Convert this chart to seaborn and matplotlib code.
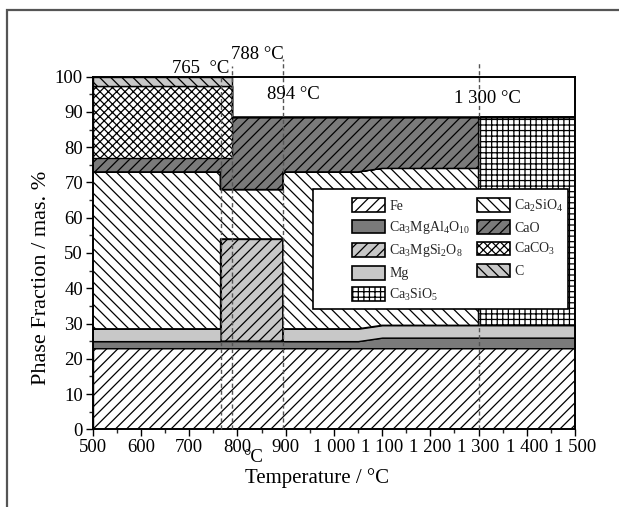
import matplotlib
matplotlib.use("Agg")
import matplotlib.pyplot as plt
import seaborn as sns
import numpy as np
from matplotlib.patches import Patch, Rectangle
from matplotlib.ticker import MultipleLocator, FixedLocator

# Phase fractions (mas. %) along temperature; repeated temperatures mark step changes
temperature = [500, 765, 765, 788, 788, 894, 894, 1050, 1100, 1300, 1300, 1500]
fe = [23, 23, 23, 23, 23, 23, 23, 23, 23, 23, 23, 23]
ca3mgal4o10 = [2, 2, 2, 2, 2, 2, 2, 2, 3, 3, 3, 3]
ca3mgsi2o8 = [0, 0, 29, 29, 29, 29, 0, 0, 0, 0, 0, 0]
mg = [3.5, 3.5, 0, 0, 0, 0, 3.5, 3.5, 3.5, 3.5, 3.5, 3.5]
ca2sio4 = [44.5, 44.5, 14, 14, 14, 14, 44.5, 44.5, 44.5, 44.5, 0, 0]
ca3sio5 = [0, 0, 0, 0, 0, 0, 0, 0, 0, 0, 59, 59]
cao = [4, 4, 9, 9, 20.5, 20.5, 15.5, 15.5, 14.5, 14.5, 0, 0]
caco3 = [20.5, 20.5, 20.5, 20.5, 0, 0, 0, 0, 0, 0, 0, 0]
carbon = [2.5, 2.5, 2.5, 2.5, 0, 0, 0, 0, 0, 0, 0, 0]

phase_names = ["Fe", r"Ca$_3$MgAl$_4$O$_{10}$", r"Ca$_3$MgSi$_2$O$_8$", "Mg",
               r"Ca$_2$SiO$_4$", r"Ca$_3$SiO$_5$", "CaO", r"CaCO$_3$", "C"]
phase_values = [fe, ca3mgal4o10, ca3mgsi2o8, mg, ca2sio4, ca3sio5, cao, caco3, carbon]

transition_temps = [765, 788, 894, 1300]
transition_labels = ["765  \u00b0C", "788 \u00b0C", "894 \u00b0C", "1 300 \u00b0C"]

x_ticks = [500, 600, 700, 800, 900, 1000, 1100, 1200, 1300, 1400, 1500]
x_tick_labels = ["500", "600", "700", "800", "900", "1 000", "1 100", "1 200",
                 "1 300", "1 400", "1 500"]

sns.set_theme(style="ticks")
plt.rcParams["font.family"] = ["Liberation Serif", "DejaVu Serif"]
plt.rcParams["mathtext.fontset"] = "custom"
plt.rcParams["mathtext.rm"] = "Liberation Serif"
plt.rcParams["mathtext.it"] = "Liberation Serif:italic"
plt.rcParams["hatch.linewidth"] = 0.9
plt.rcParams["hatch.color"] = "black"

DARK = "#7a7a7a"
LIGHT = "#c8c8c8"
styles = {
    "Fe": ("white", "///"),
    r"Ca$_3$MgAl$_4$O$_{10}$": (DARK, None),
    r"Ca$_3$MgSi$_2$O$_8$": (LIGHT, "///"),
    "Mg": (LIGHT, None),
    r"Ca$_2$SiO$_4$": ("white", "\\\\\\"),
    r"Ca$_3$SiO$_5$": ("white", "+++"),
    "CaO": (DARK, "///"),
    r"CaCO$_3$": ("white", "xxxx"),
    "C": (LIGHT, "\\\\\\"),
}

fig = plt.figure(figsize=(6.19, 5.07), dpi=100)
ax = fig.add_axes([0.1498, 0.1533, 0.9290 - 0.1498, 0.8487 - 0.1533])

# outer frame of the figure panel
fig.patches.append(Rectangle((0.0113, -0.05), 1.2, 0.98 + 0.05, transform=fig.transFigure,
                             fill=False, edgecolor="#555555", linewidth=1.6))

# stacked step areas
T = np.array(temperature, dtype=float)
bottom = np.zeros_like(T)
for name, vals in zip(phase_names, phase_values):
    top = bottom + np.array(vals, dtype=float)
    face, hatch = styles[name]
    ax.fill_between(T, bottom, top, facecolor=face, edgecolor="black",
                    hatch=hatch, linewidth=1.0, zorder=2)
    bottom = top

# transition markers
line_tops = [100, 103, 105, 104]
ax.vlines(transition_temps, 0, line_tops, colors="#555555", linestyles=(0, (3, 2)),
          linewidth=1.0, zorder=3, clip_on=False)
label_pos = [(783, 101.0, "right"), (787, 105.0, "left"), (917, 93.7, "center"),
             (1318, 92.5, "center")]
for (lx, ly, ha), txt in zip(label_pos, transition_labels):
    ax.text(lx, ly, txt, ha=ha, va="baseline", fontsize=13.5, color="black",
            zorder=6, clip_on=False)

ax.set_xlim(500, 1500)
ax.set_ylim(0, 100)
ax.xaxis.set_major_locator(FixedLocator(x_ticks))
ax.set_xticklabels(x_tick_labels)
ax.xaxis.set_minor_locator(MultipleLocator(50))
ax.yaxis.set_major_locator(MultipleLocator(10))
ax.yaxis.set_minor_locator(MultipleLocator(5))
ax.tick_params(axis="both", which="major", direction="out", length=5, width=1.0,
               labelsize=13.5, colors="black", pad=2)
ax.tick_params(axis="both", which="minor", direction="out", length=3, width=1.0)
for side in ["top", "right", "bottom", "left"]:
    ax.spines[side].set_visible(True)
    ax.spines[side].set_linewidth(1.4)
    ax.spines[side].set_color("black")

ax.set_xlabel("Temperature / \u00b0C", fontsize=15, color="black")
ax.set_ylabel("Phase Fraction / mas. %", fontsize=16, color="black")
ax.xaxis.set_label_coords(0.464, -0.11)
ax.yaxis.label.set_va("center")
ax.yaxis.set_label_coords(-0.107, 0.43)

# stray unit mark beside the 800 tick
ax.text(832, -0.08, "\u00b0C", transform=ax.get_xaxis_transform(), ha="center",
        va="center", fontsize=13.5, color="black", clip_on=False)

# legend panel
ax.add_patch(Rectangle((957, 34.1), 1486 - 957, 68.1 - 34.1, facecolor="white",
                       edgecolor="black", linewidth=1.2, zorder=4))
handles = [Patch(facecolor=styles[n][0], edgecolor="black", hatch=styles[n][1],
                 linewidth=1.2, label=n) for n in phase_names]
order = [0, 1, 2, 3, 5, 4, 6, 7, 8]
leg = ax.legend([handles[i] for i in order], [phase_names[i] for i in order],
                ncol=2, loc="upper left", bbox_to_anchor=(0.537, 0.656),
                frameon=False, fontsize=10, handlelength=2.4, handleheight=1.15,
                handletextpad=0.3, columnspacing=0.5, labelspacing=0.45,
                borderpad=0, borderaxespad=0)
leg.set_zorder(5)

fig.savefig("out.png", dpi=100)
